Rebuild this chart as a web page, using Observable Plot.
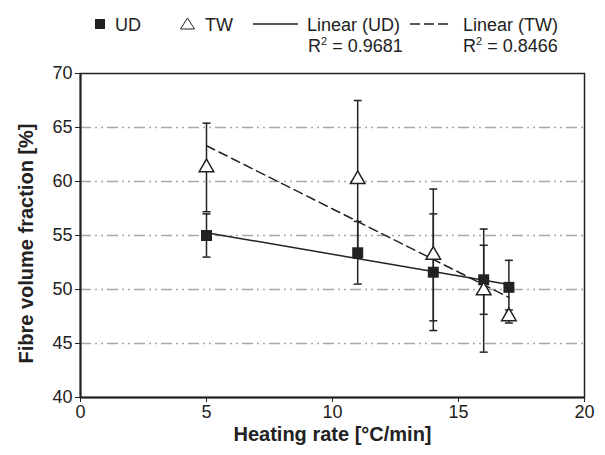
<!DOCTYPE html>
<html><head><meta charset="utf-8">
<script src="https://cdn.jsdelivr.net/npm/d3@7"></script>
<script src="https://cdn.jsdelivr.net/npm/@observablehq/plot@0.6"></script>
<style>
body{margin:0;background:#fff;font-family:"Liberation Sans",Arial,sans-serif;color:#222}
#wrap{position:relative;width:605px;height:455px}
#legend{position:absolute;left:0;top:0;width:605px;height:60px}
#chart{position:absolute;left:0;top:60px}
</style></head>
<body><div id="wrap">
<div id="legend">
<svg width="605" height="60" font-family="Liberation Sans, Arial, sans-serif" font-size="18" fill="#222">
<rect x="95" y="19" width="10" height="10" fill="#222"/>
<path d="M180.5,29 L187.5,18 L194.5,29 Z" fill="none" stroke="#222" stroke-width="1"/>
<line x1="253" x2="298" y1="24" y2="24" stroke="#222" stroke-width="1.3"/>
<line x1="410" x2="448" y1="24" y2="24" stroke="#222" stroke-width="1.3" stroke-dasharray="10,4"/>
<text x="115" y="30.5">UD</text>
<text x="205" y="30.5">TW</text>
<text x="307" y="30.5">Linear (UD)</text>
<text x="308" y="51.5">R<tspan font-size="11" dy="-7">2</tspan><tspan dy="7"> = 0.9681</tspan></text>
<text x="463" y="30.5">Linear (TW)</text>
<text x="463" y="51.5">R<tspan font-size="11" dy="-7">2</tspan><tspan dy="7"> = 0.8466</tspan></text>
</svg>
</div>
<div id="chart"></div>
</div>
<script>
const heatingRate = [5, 11, 14, 16, 17];
const udMean = [55.0, 53.4, 51.6, 50.9, 50.2];
const udErr  = [2.0, 2.9, 5.4, 3.2, 2.5];
const twMean = [61.3, 60.2, 53.2, 49.9, 47.5];
const twErr  = [4.1, 7.3, 6.1, 5.7, 0.6];
const xTicks = [0, 5, 10, 15, 20];
const yTicks = [40, 45, 50, 55, 60, 65, 70];
const gridLines = [45, 50, 55, 60, 65];
const xLabel = "Heating rate [°C/min]";
const yLabel = "Fibre volume fraction [%]";

const ud = heatingRate.map((x, i) => ({x, y: udMean[i], lo: udMean[i] - udErr[i], hi: udMean[i] + udErr[i]}));
const tw = heatingRate.map((x, i) => ({x, y: twMean[i], lo: twMean[i] - twErr[i], hi: twMean[i] + twErr[i]}));
const caps = [...ud, ...tw].flatMap(d => [{x: d.x, y: d.lo}, {x: d.x, y: d.hi}]);
const capSymbol = {draw(ctx, size) { ctx.moveTo(-4, 0); ctx.lineTo(4, 0); }};

const chart = Plot.plot({
  width: 605, height: 395,
  marginLeft: 80, marginRight: 21, marginTop: 13, marginBottom: 58,
  style: {fontFamily: "Liberation Sans, Arial, sans-serif", fontSize: "18px", color: "#222", background: "#fff", overflow: "visible"},
  x: {domain: [0, 20]},
  y: {domain: [40, 70]},
  marks: [
    Plot.ruleY(gridLines, {stroke: "#a8a8a8", strokeWidth: 1.4, strokeDasharray: "11,4,2,4,2,4"}),
    Plot.axisX({ticks: xTicks, tickSize: 5, tickPadding: 3, label: null, stroke: "#222", fontSize: 18}),
    Plot.axisY({ticks: yTicks, tickSize: 5, tickPadding: 3, label: null, stroke: "#222", fontSize: 18}),
    Plot.frame({stroke: "#222", strokeWidth: 1.5}),
    Plot.ruleX([0], {stroke: "#222", strokeWidth: 2}),
    Plot.ruleY([40], {stroke: "#222", strokeWidth: 2}),
    Plot.ruleX(ud, {x: "x", y1: "lo", y2: "hi", stroke: "#222", strokeWidth: 1.5}),
    Plot.ruleX(tw, {x: "x", y1: "lo", y2: "hi", stroke: "#222", strokeWidth: 1.5}),
    Plot.dot(caps, {x: "x", y: "y", symbol: capSymbol, stroke: "#222", strokeWidth: 1.5, fill: "none"}),
    Plot.linearRegressionY(ud, {x: "x", y: "y", ci: 0, stroke: "#222", strokeWidth: 1.5}),
    Plot.linearRegressionY(tw, {x: "x", y: "y", ci: 0, stroke: "#222", strokeWidth: 1.5, strokeDasharray: "9,5"}),
    Plot.dot(ud, {x: "x", y: "y", symbol: "square", r: 6.2, fill: "#222", stroke: "none"}),
    Plot.dot(tw, {x: "x", y: "y", symbol: "triangle", r: 5.4, fill: "#fff", stroke: "#222", strokeWidth: 1.5}),
    Plot.text([xLabel], {frameAnchor: "bottom", dy: 43, fontWeight: "bold", fontSize: 20, letterSpacing: "0.5px", fill: "#222", textAnchor: "middle"}),
    Plot.text([yLabel], {frameAnchor: "left", dx: -54, dy: 8, rotate: -90, textAnchor: "middle", fontWeight: "bold", fontSize: 20, letterSpacing: "0.6px", fill: "#222"})
  ]
});
document.getElementById("chart").appendChild(chart);
</script>
</body></html>
